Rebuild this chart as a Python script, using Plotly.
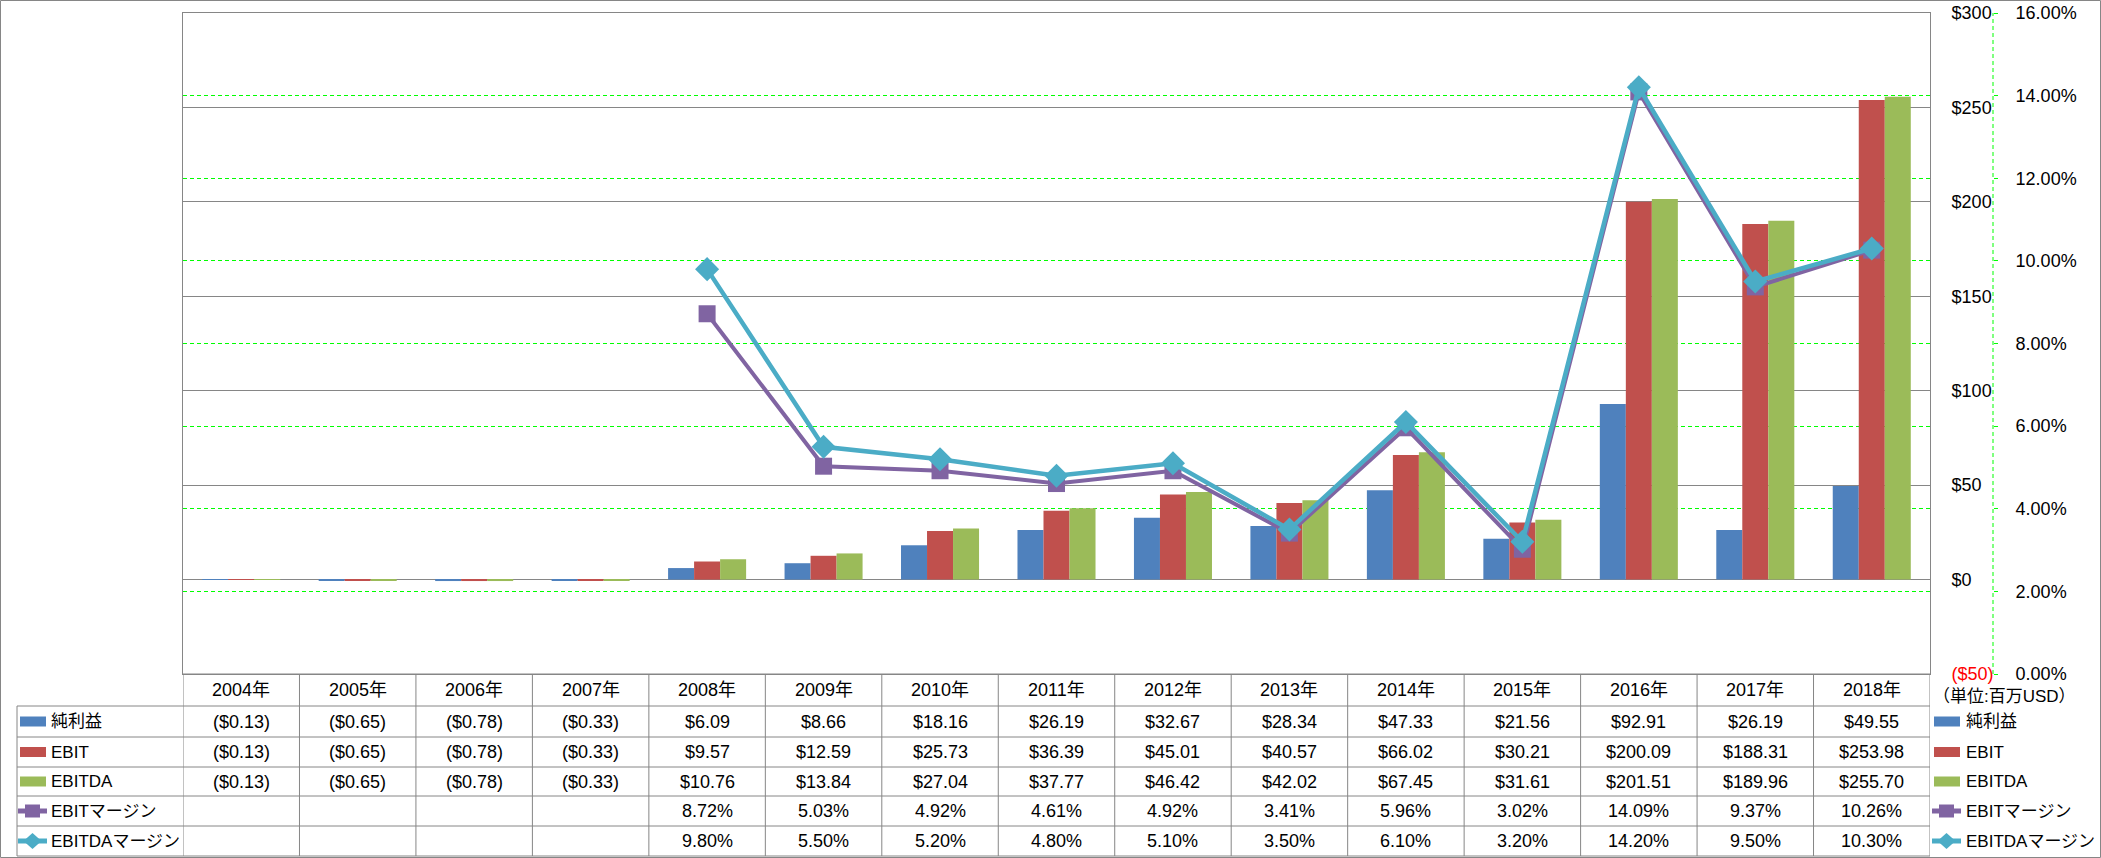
import plotly.graph_objects as go

years = ["2004年", "2005年", "2006年", "2007年", "2008年", "2009年", "2010年", "2011年",
         "2012年", "2013年", "2014年", "2015年", "2016年", "2017年", "2018年"]
net_income = [-0.13, -0.65, -0.78, -0.33, 6.09, 8.66, 18.16, 26.19, 32.67, 28.34, 47.33, 21.56, 92.91, 26.19, 49.55]
ebit = [-0.13, -0.65, -0.78, -0.33, 9.57, 12.59, 25.73, 36.39, 45.01, 40.57, 66.02, 30.21, 200.09, 188.31, 253.98]
ebitda = [-0.13, -0.65, -0.78, -0.33, 10.76, 13.84, 27.04, 37.77, 46.42, 42.02, 67.45, 31.61, 201.51, 189.96, 255.70]
ebit_margin = [None, None, None, None, 8.72, 5.03, 4.92, 4.61, 4.92, 3.41, 5.96, 3.02, 14.09, 9.37, 10.26]
ebitda_margin = [None, None, None, None, 9.80, 5.50, 5.20, 4.80, 5.10, 3.50, 6.10, 3.20, 14.20, 9.50, 10.30]
series_names = ["純利益", "EBIT", "EBITDA", "EBITマージン", "EBITDAマージン"]
usd_ticks = [-50, 0, 50, 100, 150, 200, 250, 300]
pct_ticks = [0, 2, 4, 6, 8, 10, 12, 14, 16]
unit_label = "（単位:百万USD）"

C_BLUE, C_RED, C_GREEN, C_PURPLE, C_TEAL = "#4F81BD", "#C0504D", "#9BBB59", "#8064A2", "#4BACC6"
GRID = "#868686"
LIME = "#00FF00"
FONT = "Liberation Sans, Arial, Noto Sans CJK JP, sans-serif"

W, H = 2101, 858
L, R, T, B = 183, 108, 13, 184
PW, PH = W - L - R, H - T - B


def px(x):
    return (x - L) / PW


def py(y):
    return (T + PH - y) / PH


def usd(v):
    return f"(${abs(v):.2f})" if v < 0 else f"${v:.2f}"


def usd_tick(v):
    if v < 0:
        return f"<span style='color:#FF0000'>(${abs(v)})</span>"
    return f"${v}"


fig = go.Figure()
for name, vals, col in [(series_names[0], net_income, C_BLUE), (series_names[1], ebit, C_RED),
                        (series_names[2], ebitda, C_GREEN)]:
    fig.add_trace(go.Bar(x=years, y=vals, name=name, marker=dict(color=col, line=dict(width=0)),
                         yaxis="y", hoverinfo="skip"))
fig.add_trace(go.Scatter(x=years, y=ebit_margin, name=series_names[3], yaxis="y2", mode="lines+markers",
                         line=dict(color=C_PURPLE, width=4),
                         marker=dict(symbol="square", size=17, color=C_PURPLE), hoverinfo="skip"))
fig.add_trace(go.Scatter(x=years, y=ebitda_margin, name=series_names[4], yaxis="y2", mode="lines+markers",
                         line=dict(color=C_TEAL, width=4.5),
                         marker=dict(symbol="diamond", size=18.5, color=C_TEAL), hoverinfo="skip"))

shapes = []
annotations = []

row_edges = [674, 706, 737, 767, 796, 826, 856]
row_centers = [(row_edges[i] + row_edges[i + 1]) / 2 for i in range(6)]
tline = dict(color=GRID, width=1)

for i, y in enumerate(row_edges):
    x0 = px(183) if i == 0 else px(17)
    shapes.append(dict(type="line", xref="paper", yref="paper", x0=x0, x1=px(1930), y0=py(y), y1=py(y), line=tline))
for i in range(len(years) + 1):
    shapes.append(dict(type="line", xref="x", yref="paper", x0=i - 0.5, x1=i - 0.5,
                       y0=py(674), y1=py(856), line=tline))
shapes.append(dict(type="line", xref="paper", yref="paper", x0=px(17), x1=px(17),
                   y0=py(706), y1=py(856), line=tline))

for yr in years:
    annotations.append(dict(x=yr, xref="x", y=py(row_centers[0]), yref="paper", text=yr, showarrow=False,
                            font=dict(size=18, color="#000000", family=FONT), xanchor="center", yanchor="middle"))
rows = [[usd(v) for v in net_income], [usd(v) for v in ebit], [usd(v) for v in ebitda],
        ["" if v is None else f"{v:.2f}%" for v in ebit_margin],
        ["" if v is None else f"{v:.2f}%" for v in ebitda_margin]]
for r, texts in enumerate(rows):
    for yr, t in zip(years, texts):
        if t:
            annotations.append(dict(x=yr, xref="x", y=py(row_centers[r + 1]), yref="paper", text=t,
                                    showarrow=False, font=dict(size=18, color="#000000", family=FONT),
                                    xanchor="center", yanchor="middle"))

colors = [C_BLUE, C_RED, C_GREEN, C_PURPLE, C_TEAL]
for sx, tx in [(19, 49), (1933, 1964)]:
    for k in range(5):
        yc = row_centers[k + 1]
        if k < 3:
            shapes.append(dict(type="rect", xref="paper", yref="paper", x0=px(sx + 1), x1=px(sx + 27),
                               y0=py(yc + 5), y1=py(yc - 5), fillcolor=colors[k], line=dict(width=0)))
        else:
            shapes.append(dict(type="line", xref="paper", yref="paper", x0=px(sx - 1), x1=px(sx + 28),
                               y0=py(yc), y1=py(yc), line=dict(color=colors[k], width=5)))
            path = "M -7.5 -6.5 L 7.5 -6.5 L 7.5 6.5 L -7.5 6.5 Z" if k == 3 else "M -9 0 L 0 8 L 9 0 L 0 -8 Z"
            shapes.append(dict(type="path", xref="paper", yref="paper", xsizemode="pixel", ysizemode="pixel",
                               xanchor=px(sx + 13.5), yanchor=py(yc), path=path, fillcolor=colors[k],
                               line=dict(width=0)))
        annotations.append(dict(x=px(tx), xref="paper", y=py(yc), yref="paper", text=series_names[k],
                                showarrow=False, font=dict(size=17, color="#000000", family=FONT),
                                xanchor="left", yanchor="middle"))

annotations.append(dict(x=px(2004), xref="paper", y=py(697), yref="paper", text=unit_label, showarrow=False,
                        font=dict(size=17, color="#000000", family=FONT), xanchor="center", yanchor="middle"))

shapes.append(dict(type="line", xref="paper", yref="paper", x0=1, x1=1, y0=0, y1=1,
                   line=dict(color=LIME, width=1, dash="4px,3px")))
shapes.append(dict(type="rect", xref="paper", yref="paper", x0=px(0.5), x1=px(2100.5), y0=py(857.5), y1=py(0.5),
                   line=dict(color=GRID, width=1), fillcolor="rgba(0,0,0,0)"))

fig.update_layout(
    width=W, height=H, margin=dict(l=L, r=R, t=T, b=B, pad=0),
    paper_bgcolor="white", plot_bgcolor="white", showlegend=False,
    barmode="group", bargap=0.33, bargroupgap=0,
    font=dict(family=FONT, size=18, color="#000000"),
    xaxis=dict(domain=[0, px(1930)], type="category", range=[-0.5, len(years) - 0.5], showticklabels=False,
               showgrid=False, showline=True, mirror=True, linecolor=GRID, linewidth=1, ticks="",
               zeroline=False, fixedrange=True),
    yaxis=dict(range=[-50, 300], side="right", tickvals=usd_ticks, ticktext=[usd_tick(v) for v in usd_ticks],
               showgrid=True, gridcolor=GRID, gridwidth=1, zeroline=False, showline=True, mirror=True,
               linecolor=GRID, linewidth=1, ticks="", ticklabelstandoff=17, automargin=False,
               tickfont=dict(size=18, color="#000000", family=FONT), fixedrange=True),
    yaxis2=dict(range=[0, 16], overlaying="y", side="right", anchor="free", position=1, tickvals=pct_ticks,
                ticktext=[f"{v:.2f}%" for v in pct_ticks], showgrid=True, gridcolor=LIME, gridwidth=1,
                griddash="4px,3px", zeroline=False, showline=False, ticks="outside", ticklen=4,
                tickcolor=LIME, ticklabelstandoff=14, automargin=False,
                tickfont=dict(size=18, color="#000000", family=FONT), fixedrange=True),
    shapes=shapes, annotations=annotations,
)

fig.write_html("out.html", config={"displayModeBar": False},
               post_script="document.body.style.margin='0';document.body.style.overflow='hidden';")
